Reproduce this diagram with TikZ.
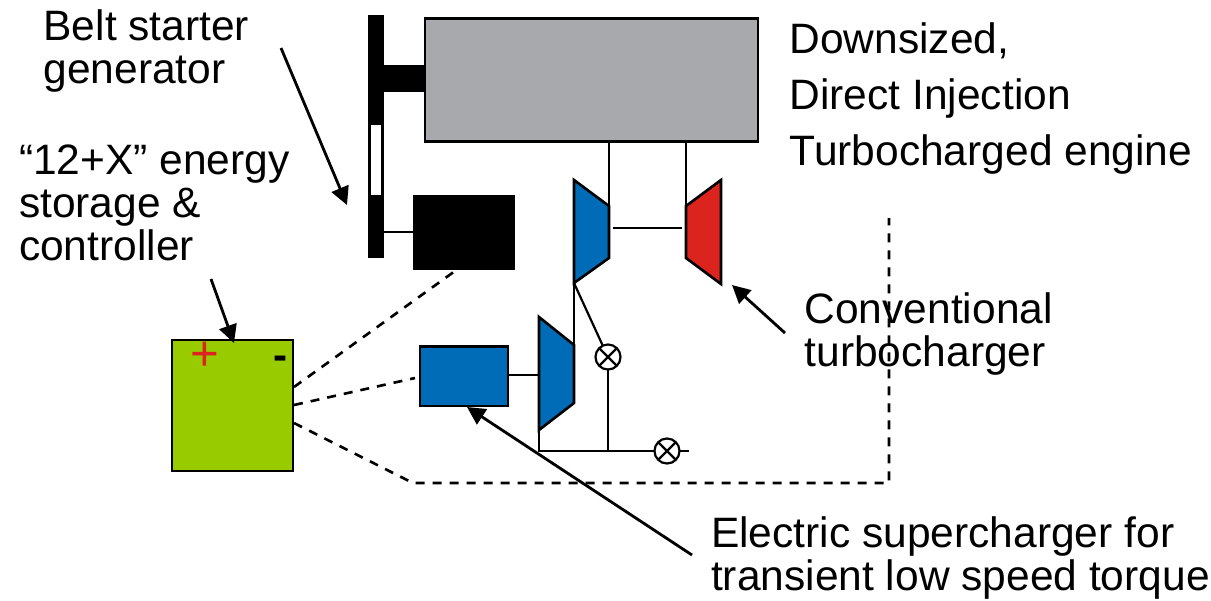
\documentclass[tikz,border=0pt]{standalone}
\usepackage{fontspec}
\setmainfont{Liberation Sans}
\usetikzlibrary{arrows.meta}
\definecolor{enginegrey}{HTML}{A7A9AC}
\definecolor{chargerblue}{HTML}{006BB6}
\definecolor{turbinered}{HTML}{DC241F}
\definecolor{storagegreen}{HTML}{99CC00}
\begin{document}
\begin{tikzpicture}[x=0.02cm,y=-0.02cm,
  line width=1.25pt,
  box node/.style={draw,anchor=north west,inner sep=0pt,outer sep=0pt},
  label node/.style={anchor=north west,align=left,inner sep=0pt,font=\fontsize{24.2}{24.4}\selectfont},
  valve node/.style={circle,draw,fill=white,minimum size=0.5cm,inner sep=0pt,outer sep=0pt,path picture={
    \draw (path picture bounding box.south west) -- (path picture bounding box.north east);
    \draw (path picture bounding box.north west) -- (path picture bounding box.south east);}},
  dash line/.style={line width=1.5pt,dash pattern=on 0.18cm off 0.16cm},
  lead arrow/.style={line width=1.6pt,-{Triangle[length=0.36cm,width=0.36cm]}}]

  \useasboundingbox (0,0) rectangle (1211,600);

  % engine and belt drive
  \node[box node,fill=enginegrey,minimum width=6.66cm,minimum height=2.46cm] (engine) at (425,18.5) {};
  \node[box node,fill=black,minimum width=0.26cm,minimum height=4.8cm] (belt) at (369.5,16.5) {};
  \node[box node,draw=none,fill=white,minimum width=0.2cm,minimum height=1.4cm] (beltgap) at (371,125) {};
  \node[box node,fill=black,minimum width=0.82cm,minimum height=0.48cm] (shaft) at (383,66.5) {};
  \node[box node,fill=black,minimum width=2cm,minimum height=1.45cm] (starter) at (414,196) {};
  \draw (383,232) coordinate (beltout) -- (beltout -| starter.west);

  % conventional turbocharger
  \draw[fill=chargerblue,line width=1.5pt] (574,180) coordinate (tctop) -- (609,206) coordinate (tcin) -- (609,258) -- (574,283) coordinate (tcout) -- cycle;
  \draw[fill=turbinered,line width=1.5pt] (721,180) -- (686,206) coordinate (tbin) -- (686,258) -- (721,284) -- cycle;
  \draw (tcin |- engine.south) -- (tcin);
  \draw (tbin |- engine.south) -- (tbin);
  \draw (613,228) coordinate (tbshaft) -- (682,228) coordinate (tcshaft);

  % electric supercharger
  \node[box node,fill=chargerblue,minimum width=1.76cm,minimum height=1.19cm] (esc) at (420,346.5) {};
  \draw[fill=chargerblue,line width=1.5pt] (539,317) -- (574,345) coordinate (ecin) -- (574,403) -- (539,430) coordinate (ecout) -- cycle;
  \draw (tcout) -- (ecin);
  \draw (esc.east |- 0,375) coordinate (escout) -- (539,375);

  % bypass and valves
  \node[valve node] (valvea) at (608,357) {};
  \node[valve node] (valveb) at (667,451) {};
  \coordinate (tee) at (608,451);
  \coordinate (corner) at (539,451);
  \coordinate (outlet) at (689,451);
  \draw (tcout) -- (valvea);
  \draw (valvea) -- (tee);
  \draw (ecout) -- (corner) -- (valveb);
  \draw (valveb) -- (outlet);

  % energy storage
  \node[box node,fill=storagegreen,minimum width=2.42cm,minimum height=2.62cm] (storage) at (172,340) {};
  \node[inner sep=0pt,text=turbinered,font=\fontsize{28}{28}\selectfont] (plus) at (205,356) {+};
  \node[inner sep=0pt,font=\fontsize{24}{24}\selectfont\bfseries] (minus) at (281,363) {-};

  % wiring
  \coordinate (wirea) at (455,271);
  \coordinate (wireb) at (415,378);
  \coordinate (wirec) at (413,483);
  \coordinate (wired) at (889,483);
  \coordinate (wiree) at (889,218);
  \draw[dash line] (294,387) -- (wirea);
  \draw[dash line] (294,405) -- (wireb);
  \draw[dash line] (294,423) -- (wirec) -- (wired) -- (wiree);

  % labels
  \node[label node] (beltlabel) at (42.5,9) {Belt starter\\generator};
  \node[label node] (storagelabel) at (18,143.5) {“12+X” energy\\storage \&\\controller};
  \node[label node,font=\fontsize{24.2}{32}\selectfont] (enginelabel) at (788.5,21.5) {Downsized,\\Direct Injection\\Turbocharged engine};
  \node[label node] (turbolabel) at (803.5,292) {Conventional\\turbocharger};
  \node[label node] (esclabel) at (710,516) {Electric supercharger for\\transient low speed torque};

  % arrows
  \coordinate (beltfrom) at (281,48);
  \coordinate (beltto) at (347,205);
  \coordinate (storagefrom) at (211,279);
  \coordinate (storageto) at (234,343);
  \coordinate (turbofrom) at (785,333);
  \coordinate (turboto) at (732,285);
  \coordinate (escfrom) at (692,555);
  \coordinate (escto) at (467,407);
  \draw[lead arrow] (beltfrom) -- (beltto);
  \draw[lead arrow] (storagefrom) -- (storageto);
  \draw[lead arrow] (turbofrom) -- (turboto);
  \draw[lead arrow] (escfrom) -- (escto);
\end{tikzpicture}
\end{document}
